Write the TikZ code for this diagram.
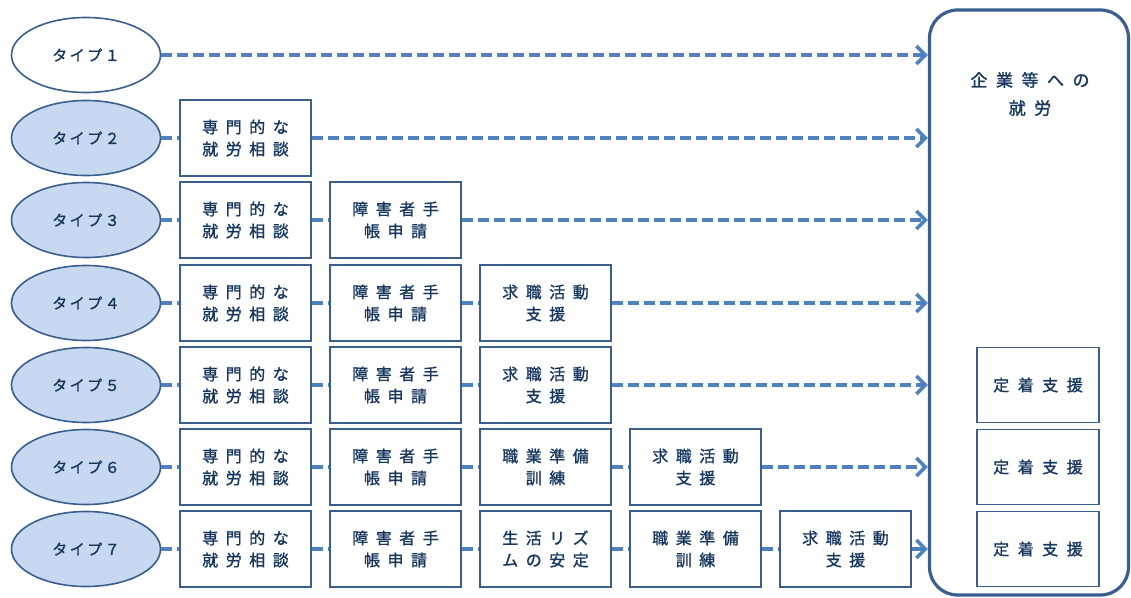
\documentclass[tikz,border=0pt]{standalone}
\usepackage{fontspec}
\setmainfont{Noto Sans CJK JP}[FakeBold=1.3]
\usetikzlibrary{shapes.geometric,arrows.meta}
\definecolor{txt}{HTML}{17375E}
\definecolor{bord}{HTML}{3A5F8F}
\definecolor{efill}{HTML}{C6D9F1}
\definecolor{arr}{HTML}{4F81BD}
\newcommand\gp{\hspace{7.5pt}}
\newcommand\gk{\hspace{2.5pt}}
\newcommand\gb{\hspace{8.5pt}}
\tikzset{
  typeell/.style={ellipse,draw=bord,line width=1.6pt,minimum width=149pt,minimum height=75pt,inner sep=0pt,text=txt,font=\fontsize{15}{18}\selectfont},
  stepbox/.style={rectangle,draw=bord,line width=1.6pt,fill=white,minimum width=131pt,minimum height=76pt,inner sep=0pt,text=txt,align=center,font=\fontsize{16}{22}\selectfont},
  fixbox/.style={stepbox,minimum width=122pt,minimum height=75pt},
  goalbox/.style={rectangle,draw=bord,line width=3.2pt,rounded corners=28pt,minimum width=199pt,minimum height=585pt,inner sep=0pt},
  link/.style={draw=arr,line width=3.6pt,dash pattern=on 11pt off 5pt},
  linkarr/.style={link,-{Straight Barb[length=9pt,width=18pt]}},
}
\begin{document}
\begin{tikzpicture}[x=1pt,y=-1pt]
\useasboundingbox (0,0) rectangle (1131,597);
% goal
\node[goalbox] (goal) at (1029,302.5) {};
\node[text=txt,align=center,font=\fontsize{17}{28}\selectfont] (goaltxt) at (1030,94) {企\gb 業\gb 等\gb へ\gb の\\就\gb 労};
% types
\node[typeell,fill=white] (t1) at (86,55) {タ\gk イ\gk プ\gk １};
\node[typeell,fill=efill] (t2) at (86,138) {タ\gk イ\gk プ\gk ２};
\node[typeell,fill=efill] (t3) at (86,220) {タ\gk イ\gk プ\gk ３};
\node[typeell,fill=efill] (t4) at (86,303) {タ\gk イ\gk プ\gk ４};
\node[typeell,fill=efill] (t5) at (86,385) {タ\gk イ\gk プ\gk ５};
\node[typeell,fill=efill] (t6) at (86,467) {タ\gk イ\gk プ\gk ６};
\node[typeell,fill=efill] (t7) at (86,549) {タ\gk イ\gk プ\gk ７};
% row 2
\node[stepbox] (b21) at (245.5,138) {専\gp 門\gp 的\gp な\\就\gp 労\gp 相\gp 談};
% row 3
\node[stepbox] (b31) at (245.5,220) {専\gp 門\gp 的\gp な\\就\gp 労\gp 相\gp 談};
\node[stepbox] (b32) at (395.5,220) {障\gp 害\gp 者\gp 手\\帳\gp 申\gp 請};
% row 4
\node[stepbox] (b41) at (245.5,303) {専\gp 門\gp 的\gp な\\就\gp 労\gp 相\gp 談};
\node[stepbox] (b42) at (395.5,303) {障\gp 害\gp 者\gp 手\\帳\gp 申\gp 請};
\node[stepbox] (b43) at (545.5,303) {求\gp 職\gp 活\gp 動\\支\gp 援};
% row 5
\node[stepbox] (b51) at (245.5,385) {専\gp 門\gp 的\gp な\\就\gp 労\gp 相\gp 談};
\node[stepbox] (b52) at (395.5,385) {障\gp 害\gp 者\gp 手\\帳\gp 申\gp 請};
\node[stepbox] (b53) at (545.5,385) {求\gp 職\gp 活\gp 動\\支\gp 援};
\node[fixbox] (f5) at (1038,385) {定\gb 着\gb 支\gb 援};
% row 6
\node[stepbox] (b61) at (245.5,467) {専\gp 門\gp 的\gp な\\就\gp 労\gp 相\gp 談};
\node[stepbox] (b62) at (395.5,467) {障\gp 害\gp 者\gp 手\\帳\gp 申\gp 請};
\node[stepbox] (b63) at (545.5,467) {職\gp 業\gp 準\gp 備\\訓\gp 練};
\node[stepbox] (b64) at (695.5,467) {求\gp 職\gp 活\gp 動\\支\gp 援};
\node[fixbox] (f6) at (1038,467) {定\gb 着\gb 支\gb 援};
% row 7
\node[stepbox] (b71) at (245.5,549) {専\gp 門\gp 的\gp な\\就\gp 労\gp 相\gp 談};
\node[stepbox] (b72) at (395.5,549) {障\gp 害\gp 者\gp 手\\帳\gp 申\gp 請};
\node[stepbox] (b73) at (545.5,549) {生\gp 活\gp リ\gp ズ\\ム\gp の\gp 安\gp 定};
\node[stepbox] (b74) at (695.5,549) {職\gp 業\gp 準\gp 備\\訓\gp 練};
\node[stepbox] (b75) at (845.5,549) {求\gp 職\gp 活\gp 動\\支\gp 援};
\node[fixbox] (f7) at (1038,549) {定\gb 着\gb 支\gb 援};
% connectors
\draw[linkarr] (t1.east) -- (t1 -| goal.west);
\draw[link] (t2.east) -- (b21.west);
\draw[linkarr] (b21.east) -- (b21 -| goal.west);
\draw[link] (t3.east) -- (b31.west);
\draw[link] (b31.east) -- (b32.west);
\draw[linkarr] (b32.east) -- (b32 -| goal.west);
\draw[link] (t4.east) -- (b41.west);
\draw[link] (b41.east) -- (b42.west);
\draw[link] (b42.east) -- (b43.west);
\draw[linkarr] (b43.east) -- (b43 -| goal.west);
\draw[link] (t5.east) -- (b51.west);
\draw[link] (b51.east) -- (b52.west);
\draw[link] (b52.east) -- (b53.west);
\draw[linkarr] (b53.east) -- (b53 -| goal.west);
\draw[link] (t6.east) -- (b61.west);
\draw[link] (b61.east) -- (b62.west);
\draw[link] (b62.east) -- (b63.west);
\draw[link] (b63.east) -- (b64.west);
\draw[linkarr] (b64.east) -- (b64 -| goal.west);
\draw[link] (t7.east) -- (b71.west);
\draw[link] (b71.east) -- (b72.west);
\draw[link] (b72.east) -- (b73.west);
\draw[link] (b73.east) -- (b74.west);
\draw[link] (b74.east) -- (b75.west);
\draw[linkarr] (b75.east) -- (b75 -| goal.west);
\end{tikzpicture}
\end{document}
